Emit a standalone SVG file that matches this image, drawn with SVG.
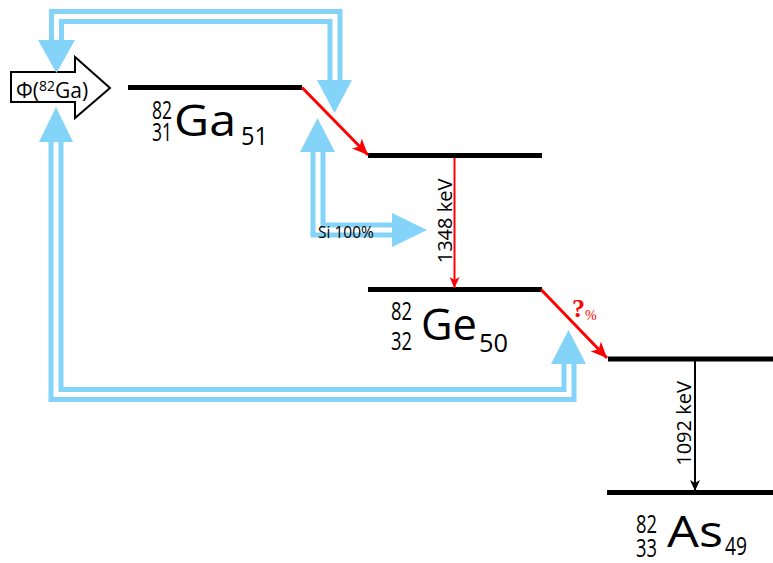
<svg xmlns="http://www.w3.org/2000/svg" width="773" height="563" viewBox="0 0 773 563">
<style>
.lvl{stroke:#000;stroke-width:5;fill:none}
.band{fill:none;stroke:#84d3f8;stroke-width:15;stroke-linejoin:miter}
.gap{fill:none;stroke:#fff;stroke-width:5;stroke-linejoin:miter}
.head{fill:#84d3f8}
.red{stroke:#f00;fill:none}
.t{font-family:"Open Sans",Lato,sans-serif;fill:#000}
.idx{font-size:25px}
.sym{font-size:43px}
</style>
<defs>
<marker id="rh" markerUnits="userSpaceOnUse" markerWidth="18" markerHeight="14" refX="16" refY="7" orient="auto">
<path d="M0,0 L16,7 L0,14 L4,7 z" fill="#f00"/>
</marker>
<marker id="rs" markerUnits="userSpaceOnUse" markerWidth="12" markerHeight="10" refX="11" refY="5" orient="auto">
<path d="M0,0 L11,5 L0,10 L3,5 z" fill="#f00"/>
</marker>
<marker id="bs" markerUnits="userSpaceOnUse" markerWidth="12" markerHeight="10" refX="11" refY="5" orient="auto">
<path d="M0,0 L11,5 L0,10 L3,5 z" fill="#000"/>
</marker>
</defs>

<g id="flux">
<polygon points="11,72 75,72 75,57 110,88 75,118 75,102 11,102" fill="#fff" stroke="#000" stroke-width="2"/>
<text class="t" x="16" y="98" font-size="21">Φ(<tspan font-size="14" dy="-7">82</tspan><tspan dy="7">Ga)</tspan></text>
</g>

<g id="levels">
<line id="ga-level" class="lvl" x1="128" y1="87.5" x2="302" y2="87.5"/>
<line id="ge-excited" class="lvl" x1="368" y1="155.5" x2="542" y2="155.5"/>
<line id="ge-level" class="lvl" x1="368" y1="289.5" x2="542" y2="289.5"/>
<line id="as-excited" class="lvl" x1="608" y1="359" x2="773" y2="359"/>
<line id="as-level" class="lvl" x1="607" y1="492.5" x2="773" y2="492.5"/>
</g>

<g id="labels">
<g id="ga-label" class="t">
<text class="idx" x="152" y="119" textLength="20" lengthAdjust="spacingAndGlyphs">82</text>
<text class="idx" x="152" y="141" textLength="20" lengthAdjust="spacingAndGlyphs">31</text>
<text class="sym" x="174" y="136" textLength="62" lengthAdjust="spacingAndGlyphs">Ga</text>
<text class="idx" x="241" y="145" textLength="27" lengthAdjust="spacingAndGlyphs">51</text>
</g>
<g id="ge-label" class="t">
<text class="idx" x="391" y="320" textLength="21" lengthAdjust="spacingAndGlyphs">82</text>
<text class="idx" x="391" y="350" textLength="21" lengthAdjust="spacingAndGlyphs">32</text>
<text class="sym" x="421" y="340" textLength="56" lengthAdjust="spacingAndGlyphs">Ge</text>
<text class="idx" x="479" y="352" textLength="29" lengthAdjust="spacingAndGlyphs">50</text>
</g>
<g id="as-label" class="t">
<text class="idx" x="636" y="533" textLength="21" lengthAdjust="spacingAndGlyphs">82</text>
<text class="idx" x="636" y="557" textLength="21" lengthAdjust="spacingAndGlyphs">33</text>
<text class="sym" x="667" y="547" textLength="56" lengthAdjust="spacingAndGlyphs">As</text>
<text class="idx" x="725" y="555" textLength="22" lengthAdjust="spacingAndGlyphs">49</text>
</g>
</g>

<g id="connectors">
<line class="red" stroke-width="3" x1="302" y1="87.5" x2="368" y2="155" marker-end="url(#rh)"/>
<line class="red" stroke-width="2" x1="454.5" y1="158" x2="454.5" y2="288" marker-end="url(#rs)"/>
<line class="red" stroke-width="3" x1="541" y1="289.5" x2="607" y2="358" marker-end="url(#rh)"/>
<line stroke="#000" stroke-width="2" x1="695" y1="361" x2="695" y2="491" marker-end="url(#bs)"/>

<path class="band" d="M56.5,40 V16.5 H335 V80"/>
<path class="gap" d="M56.5,40 V16.5 H335 V80"/>
<polygon class="head" points="38,40 75,40 56.5,73"/>
<polygon class="head" points="317,80 352,80 334.5,113"/>

<path class="band" d="M56,142 V394.5 H569 V364"/>
<path class="gap" d="M56,142 V394.5 H569 V364"/>
<polygon class="head" points="39,142 73,142 56,107"/>
<polygon class="head" points="551,364 586,364 568.5,330"/>

<path class="band" d="M318,152 V230 H392"/>
<path class="gap" d="M318,152 V230 H392"/>
<polygon class="head" points="300,152 335,152 317.5,118"/>
<polygon class="head" points="392,213 392,247 427,230"/>
</g>

<g id="edge-labels">
<text class="t" x="318" y="238" font-size="15.5">Si 100%</text>
<text class="t" transform="translate(452,221) rotate(-90)" text-anchor="middle" font-size="20">1348 keV</text>
<text class="t" transform="translate(691,423.5) rotate(-90)" text-anchor="middle" font-size="20">1092 keV</text>
<text x="572" y="317" font-family="'Liberation Serif',serif" font-weight="bold" fill="#f00" font-size="26">?<tspan font-size="14" font-weight="normal" dy="3">%</tspan></text>
</g>
</svg>
